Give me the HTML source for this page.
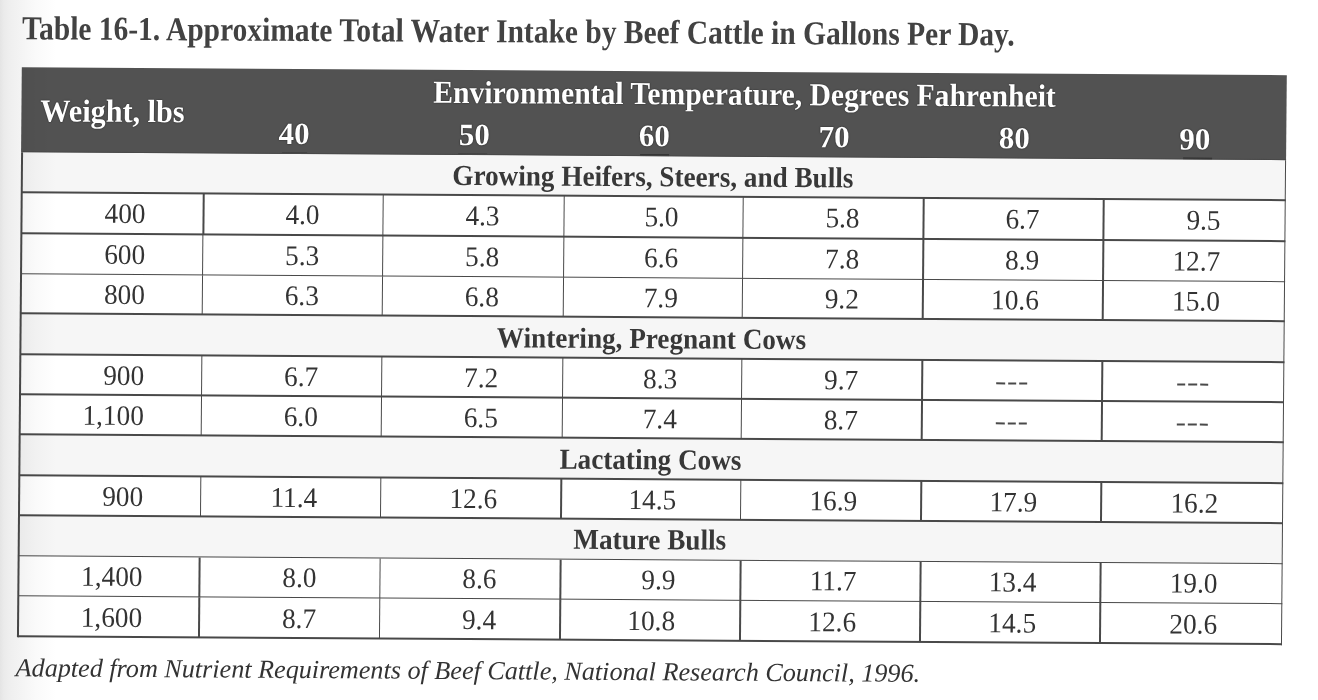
<!DOCTYPE html>
<html><head><meta charset="utf-8"><style>
html,body{margin:0;padding:0;}
body{width:1318px;height:700px;overflow:hidden;position:relative;background:#fff;font-family:"Liberation Serif",serif;filter:grayscale(1);}
#edge{position:absolute;left:0;top:0;width:60px;height:700px;background:linear-gradient(to right,#e4e4e4 0px,#ebebeb 4px,#efefef 10px,#f2f2f2 17px,#f6f6f6 26px,#fafafa 36px,#ffffff 56px);mix-blend-mode:multiply;z-index:5;}
#w{position:absolute;left:0;top:0;width:0;height:0;transform:matrix(1,0.0062,-0.0085,1,22.8,67.3);transform-origin:0 0;}
.r{position:absolute;}
.t{position:absolute;line-height:0;white-space:nowrap;}
</style></head><body>
<div id="w">
<div class="r" style="left:-1.10px;top:-0.40px;width:1265.40px;height:84.90px;background:#525252"></div>
<div class="r" style="left:617.90px;top:83.00px;width:28.90px;height:1.50px;background:#2c2c2c"></div>
<div class="r" style="left:1160.80px;top:83.00px;width:29.00px;height:1.50px;background:#2c2c2c"></div>
<div class="r" style="left:259.50px;top:83.30px;width:25.50px;height:1.20px;background:#444"></div>
<div class="r" style="left:435.50px;top:83.30px;width:29.50px;height:1.20px;background:#444"></div>
<div class="r" style="left:0.00px;top:84.50px;width:1263.40px;height:40.50px;background:#f6f6f6"></div>
<div class="r" style="left:0.00px;top:246.00px;width:1263.40px;height:41.00px;background:#f6f6f6"></div>
<div class="r" style="left:0.00px;top:367.00px;width:1263.40px;height:41.00px;background:#f6f6f6"></div>
<div class="r" style="left:0.00px;top:448.00px;width:1263.40px;height:40.50px;background:#f6f6f6"></div>
<div class="r" style="left:0.00px;top:83.88px;width:1264.03px;height:1.25px;background:#494949"></div>
<div class="r" style="left:0.00px;top:124.38px;width:1264.03px;height:1.25px;background:#494949"></div>
<div class="r" style="left:0.00px;top:165.38px;width:1264.03px;height:1.25px;background:#494949"></div>
<div class="r" style="left:0.00px;top:205.88px;width:1264.03px;height:1.25px;background:#494949"></div>
<div class="r" style="left:0.00px;top:245.38px;width:1264.03px;height:1.25px;background:#494949"></div>
<div class="r" style="left:0.00px;top:286.38px;width:1264.03px;height:1.25px;background:#494949"></div>
<div class="r" style="left:0.00px;top:326.38px;width:1264.03px;height:1.25px;background:#494949"></div>
<div class="r" style="left:0.00px;top:366.38px;width:1264.03px;height:1.25px;background:#494949"></div>
<div class="r" style="left:0.00px;top:407.38px;width:1264.03px;height:1.25px;background:#494949"></div>
<div class="r" style="left:0.00px;top:447.38px;width:1264.03px;height:1.25px;background:#494949"></div>
<div class="r" style="left:0.00px;top:487.88px;width:1264.03px;height:1.25px;background:#494949"></div>
<div class="r" style="left:0.00px;top:527.98px;width:1264.03px;height:1.25px;background:#494949"></div>
<div class="r" style="left:0.00px;top:568.38px;width:1264.03px;height:1.25px;background:#494949"></div>
<div class="r" style="left:-0.62px;top:84.50px;width:1.25px;height:485.12px;background:#494949"></div>
<div class="r" style="left:1262.78px;top:84.50px;width:1.25px;height:485.12px;background:#494949"></div>
<div class="r" style="left:181.34px;top:125.00px;width:1.25px;height:41.00px;background:#494949"></div>
<div class="r" style="left:361.18px;top:125.00px;width:1.25px;height:41.00px;background:#494949"></div>
<div class="r" style="left:541.86px;top:125.00px;width:1.25px;height:41.00px;background:#494949"></div>
<div class="r" style="left:720.89px;top:125.00px;width:1.25px;height:41.00px;background:#494949"></div>
<div class="r" style="left:901.38px;top:125.00px;width:1.25px;height:41.00px;background:#494949"></div>
<div class="r" style="left:1081.38px;top:125.00px;width:1.25px;height:41.00px;background:#494949"></div>
<div class="r" style="left:181.24px;top:166.00px;width:1.25px;height:40.50px;background:#494949"></div>
<div class="r" style="left:361.18px;top:166.00px;width:1.25px;height:40.50px;background:#494949"></div>
<div class="r" style="left:541.80px;top:166.00px;width:1.25px;height:40.50px;background:#494949"></div>
<div class="r" style="left:720.94px;top:166.00px;width:1.25px;height:40.50px;background:#494949"></div>
<div class="r" style="left:901.38px;top:166.00px;width:1.25px;height:40.50px;background:#494949"></div>
<div class="r" style="left:1081.38px;top:166.00px;width:1.25px;height:40.50px;background:#494949"></div>
<div class="r" style="left:181.13px;top:206.50px;width:1.25px;height:39.50px;background:#494949"></div>
<div class="r" style="left:361.18px;top:206.50px;width:1.25px;height:39.50px;background:#494949"></div>
<div class="r" style="left:541.74px;top:206.50px;width:1.25px;height:39.50px;background:#494949"></div>
<div class="r" style="left:720.99px;top:206.50px;width:1.25px;height:39.50px;background:#494949"></div>
<div class="r" style="left:901.38px;top:206.50px;width:1.25px;height:39.50px;background:#494949"></div>
<div class="r" style="left:1081.38px;top:206.50px;width:1.25px;height:39.50px;background:#494949"></div>
<div class="r" style="left:180.92px;top:287.00px;width:1.25px;height:40.00px;background:#494949"></div>
<div class="r" style="left:361.18px;top:287.00px;width:1.25px;height:40.00px;background:#494949"></div>
<div class="r" style="left:541.63px;top:287.00px;width:1.25px;height:40.00px;background:#494949"></div>
<div class="r" style="left:721.08px;top:287.00px;width:1.25px;height:40.00px;background:#494949"></div>
<div class="r" style="left:901.38px;top:287.00px;width:1.25px;height:40.00px;background:#494949"></div>
<div class="r" style="left:1081.38px;top:287.00px;width:1.25px;height:40.00px;background:#494949"></div>
<div class="r" style="left:180.81px;top:327.00px;width:1.25px;height:40.00px;background:#494949"></div>
<div class="r" style="left:361.18px;top:327.00px;width:1.25px;height:40.00px;background:#494949"></div>
<div class="r" style="left:541.57px;top:327.00px;width:1.25px;height:40.00px;background:#494949"></div>
<div class="r" style="left:721.13px;top:327.00px;width:1.25px;height:40.00px;background:#494949"></div>
<div class="r" style="left:901.38px;top:327.00px;width:1.25px;height:40.00px;background:#494949"></div>
<div class="r" style="left:1081.38px;top:327.00px;width:1.25px;height:40.00px;background:#494949"></div>
<div class="r" style="left:180.60px;top:408.00px;width:1.25px;height:40.00px;background:#494949"></div>
<div class="r" style="left:361.18px;top:408.00px;width:1.25px;height:40.00px;background:#494949"></div>
<div class="r" style="left:541.45px;top:408.00px;width:1.25px;height:40.00px;background:#494949"></div>
<div class="r" style="left:721.23px;top:408.00px;width:1.25px;height:40.00px;background:#494949"></div>
<div class="r" style="left:901.38px;top:408.00px;width:1.25px;height:40.00px;background:#494949"></div>
<div class="r" style="left:1081.38px;top:408.00px;width:1.25px;height:40.00px;background:#494949"></div>
<div class="r" style="left:180.39px;top:488.50px;width:1.25px;height:40.10px;background:#494949"></div>
<div class="r" style="left:361.18px;top:488.50px;width:1.25px;height:40.10px;background:#494949"></div>
<div class="r" style="left:541.34px;top:488.50px;width:1.25px;height:40.10px;background:#494949"></div>
<div class="r" style="left:721.32px;top:488.50px;width:1.25px;height:40.10px;background:#494949"></div>
<div class="r" style="left:901.38px;top:488.50px;width:1.25px;height:40.10px;background:#494949"></div>
<div class="r" style="left:1081.38px;top:488.50px;width:1.25px;height:40.10px;background:#494949"></div>
<div class="r" style="left:180.29px;top:528.60px;width:1.25px;height:40.40px;background:#494949"></div>
<div class="r" style="left:361.18px;top:528.60px;width:1.25px;height:40.40px;background:#494949"></div>
<div class="r" style="left:541.28px;top:528.60px;width:1.25px;height:40.40px;background:#494949"></div>
<div class="r" style="left:721.37px;top:528.60px;width:1.25px;height:40.40px;background:#494949"></div>
<div class="r" style="left:901.38px;top:528.60px;width:1.25px;height:40.40px;background:#494949"></div>
<div class="r" style="left:1081.38px;top:528.60px;width:1.25px;height:40.40px;background:#494949"></div>
<div class="t" style="left:-1.40px;top:-38.60px;font-size:33.5px;font-weight:bold;font-style:normal;color:#424242;transform:scaleX(0.88);transform-origin:left 0;">Table 16-1. Approximate Total Water Intake by Beef Cattle in Gallons Per Day.</div>
<div class="t" style="left:17.70px;top:42.50px;font-size:32px;font-weight:bold;font-style:normal;color:#fff;transform:scaleX(0.942);transform-origin:left 0;text-shadow:0 0 1px rgba(0,0,0,.7),0 0 2px rgba(0,0,0,.35);">Weight, lbs</div>
<div class="t" style="left:221.95px;width:1000px;text-align:center;top:21.50px;font-size:32px;font-weight:bold;font-style:normal;color:#fff;transform:scaleX(0.9246);transform-origin:center 0;text-shadow:0 0 1px rgba(0,0,0,.7),0 0 2px rgba(0,0,0,.35);">Environmental Temperature, Degrees Fahrenheit</div>
<div class="t" style="left:-228.10px;width:1000px;text-align:center;top:65.04px;font-size:31px;font-weight:bold;font-style:normal;color:#fff;text-shadow:0 0 1px rgba(0,0,0,.7),0 0 2px rgba(0,0,0,.35);">40</div>
<div class="t" style="left:-47.85px;width:1000px;text-align:center;top:65.04px;font-size:31px;font-weight:bold;font-style:normal;color:#fff;text-shadow:0 0 1px rgba(0,0,0,.7),0 0 2px rgba(0,0,0,.35);">50</div>
<div class="t" style="left:132.00px;width:1000px;text-align:center;top:65.04px;font-size:31px;font-weight:bold;font-style:normal;color:#fff;text-shadow:0 0 1px rgba(0,0,0,.7),0 0 2px rgba(0,0,0,.35);">60</div>
<div class="t" style="left:311.75px;width:1000px;text-align:center;top:65.04px;font-size:31px;font-weight:bold;font-style:normal;color:#fff;text-shadow:0 0 1px rgba(0,0,0,.7),0 0 2px rgba(0,0,0,.35);">70</div>
<div class="t" style="left:492.00px;width:1000px;text-align:center;top:65.04px;font-size:31px;font-weight:bold;font-style:normal;color:#fff;text-shadow:0 0 1px rgba(0,0,0,.7),0 0 2px rgba(0,0,0,.35);">80</div>
<div class="t" style="left:672.70px;width:1000px;text-align:center;top:65.04px;font-size:31px;font-weight:bold;font-style:normal;color:#fff;text-shadow:0 0 1px rgba(0,0,0,.7),0 0 2px rgba(0,0,0,.35);">90</div>
<div class="t" style="left:131.00px;width:1000px;text-align:center;top:104.62px;font-size:29px;font-weight:bold;font-style:normal;color:#383838;transform:scaleX(0.937);transform-origin:center 0;">Growing Heifers, Steers, and Bulls</div>
<div class="t" style="left:131.00px;width:1000px;text-align:center;top:266.62px;font-size:29px;font-weight:bold;font-style:normal;color:#383838;transform:scaleX(0.937);transform-origin:center 0;">Wintering, Pregnant Cows</div>
<div class="t" style="left:131.00px;width:1000px;text-align:center;top:387.62px;font-size:29px;font-weight:bold;font-style:normal;color:#383838;transform:scaleX(0.937);transform-origin:center 0;">Lactating Cows</div>
<div class="t" style="left:131.00px;width:1000px;text-align:center;top:468.12px;font-size:29px;font-weight:bold;font-style:normal;color:#383838;transform:scaleX(0.937);transform-origin:center 0;">Mature Bulls</div>
<div class="t" style="left:-876.30px;width:1000px;text-align:right;top:145.52px;font-size:28.4px;font-weight:normal;font-style:normal;color:#333;transform:scaleX(0.96);transform-origin:right 0;">400</div>
<div class="t" style="left:-702.50px;width:1000px;text-align:right;top:145.52px;font-size:28.4px;font-weight:normal;font-style:normal;color:#333;transform:scaleX(0.96);transform-origin:right 0;">4.0</div>
<div class="t" style="left:-521.80px;width:1000px;text-align:right;top:145.52px;font-size:28.4px;font-weight:normal;font-style:normal;color:#333;transform:scaleX(0.96);transform-origin:right 0;">4.3</div>
<div class="t" style="left:-342.80px;width:1000px;text-align:right;top:145.52px;font-size:28.4px;font-weight:normal;font-style:normal;color:#333;transform:scaleX(0.96);transform-origin:right 0;">5.0</div>
<div class="t" style="left:-162.30px;width:1000px;text-align:right;top:145.52px;font-size:28.4px;font-weight:normal;font-style:normal;color:#333;transform:scaleX(0.96);transform-origin:right 0;">5.8</div>
<div class="t" style="left:17.70px;width:1000px;text-align:right;top:145.52px;font-size:28.4px;font-weight:normal;font-style:normal;color:#333;transform:scaleX(0.96);transform-origin:right 0;">6.7</div>
<div class="t" style="left:199.10px;width:1000px;text-align:right;top:145.52px;font-size:28.4px;font-weight:normal;font-style:normal;color:#333;transform:scaleX(0.96);transform-origin:right 0;">9.5</div>
<div class="t" style="left:-876.30px;width:1000px;text-align:right;top:186.72px;font-size:28.4px;font-weight:normal;font-style:normal;color:#333;transform:scaleX(0.96);transform-origin:right 0;">600</div>
<div class="t" style="left:-702.50px;width:1000px;text-align:right;top:186.72px;font-size:28.4px;font-weight:normal;font-style:normal;color:#333;transform:scaleX(0.96);transform-origin:right 0;">5.3</div>
<div class="t" style="left:-521.80px;width:1000px;text-align:right;top:186.72px;font-size:28.4px;font-weight:normal;font-style:normal;color:#333;transform:scaleX(0.96);transform-origin:right 0;">5.8</div>
<div class="t" style="left:-342.80px;width:1000px;text-align:right;top:186.72px;font-size:28.4px;font-weight:normal;font-style:normal;color:#333;transform:scaleX(0.96);transform-origin:right 0;">6.6</div>
<div class="t" style="left:-162.30px;width:1000px;text-align:right;top:186.72px;font-size:28.4px;font-weight:normal;font-style:normal;color:#333;transform:scaleX(0.96);transform-origin:right 0;">7.8</div>
<div class="t" style="left:17.70px;width:1000px;text-align:right;top:186.72px;font-size:28.4px;font-weight:normal;font-style:normal;color:#333;transform:scaleX(0.96);transform-origin:right 0;">8.9</div>
<div class="t" style="left:199.10px;width:1000px;text-align:right;top:186.72px;font-size:28.4px;font-weight:normal;font-style:normal;color:#333;transform:scaleX(0.96);transform-origin:right 0;">12.7</div>
<div class="t" style="left:-876.30px;width:1000px;text-align:right;top:227.32px;font-size:28.4px;font-weight:normal;font-style:normal;color:#333;transform:scaleX(0.96);transform-origin:right 0;">800</div>
<div class="t" style="left:-702.50px;width:1000px;text-align:right;top:227.32px;font-size:28.4px;font-weight:normal;font-style:normal;color:#333;transform:scaleX(0.96);transform-origin:right 0;">6.3</div>
<div class="t" style="left:-521.80px;width:1000px;text-align:right;top:227.32px;font-size:28.4px;font-weight:normal;font-style:normal;color:#333;transform:scaleX(0.96);transform-origin:right 0;">6.8</div>
<div class="t" style="left:-342.80px;width:1000px;text-align:right;top:227.32px;font-size:28.4px;font-weight:normal;font-style:normal;color:#333;transform:scaleX(0.96);transform-origin:right 0;">7.9</div>
<div class="t" style="left:-162.30px;width:1000px;text-align:right;top:227.32px;font-size:28.4px;font-weight:normal;font-style:normal;color:#333;transform:scaleX(0.96);transform-origin:right 0;">9.2</div>
<div class="t" style="left:17.70px;width:1000px;text-align:right;top:227.32px;font-size:28.4px;font-weight:normal;font-style:normal;color:#333;transform:scaleX(0.96);transform-origin:right 0;">10.6</div>
<div class="t" style="left:199.10px;width:1000px;text-align:right;top:227.32px;font-size:28.4px;font-weight:normal;font-style:normal;color:#333;transform:scaleX(0.96);transform-origin:right 0;">15.0</div>
<div class="t" style="left:-876.30px;width:1000px;text-align:right;top:307.52px;font-size:28.4px;font-weight:normal;font-style:normal;color:#333;transform:scaleX(0.96);transform-origin:right 0;">900</div>
<div class="t" style="left:-702.50px;width:1000px;text-align:right;top:307.52px;font-size:28.4px;font-weight:normal;font-style:normal;color:#333;transform:scaleX(0.96);transform-origin:right 0;">6.7</div>
<div class="t" style="left:-521.80px;width:1000px;text-align:right;top:307.52px;font-size:28.4px;font-weight:normal;font-style:normal;color:#333;transform:scaleX(0.96);transform-origin:right 0;">7.2</div>
<div class="t" style="left:-342.80px;width:1000px;text-align:right;top:307.52px;font-size:28.4px;font-weight:normal;font-style:normal;color:#333;transform:scaleX(0.96);transform-origin:right 0;">8.3</div>
<div class="t" style="left:-162.30px;width:1000px;text-align:right;top:307.52px;font-size:28.4px;font-weight:normal;font-style:normal;color:#333;transform:scaleX(0.96);transform-origin:right 0;">9.7</div>
<div class="r" style="left:976.20px;top:308.90px;width:8.50px;height:1.80px;background:#4a4a4a"></div>
<div class="r" style="left:987.50px;top:308.90px;width:8.50px;height:1.80px;background:#4a4a4a"></div>
<div class="r" style="left:998.80px;top:308.90px;width:8.50px;height:1.80px;background:#4a4a4a"></div>
<div class="r" style="left:1156.90px;top:308.90px;width:8.50px;height:1.80px;background:#4a4a4a"></div>
<div class="r" style="left:1168.20px;top:308.90px;width:8.50px;height:1.80px;background:#4a4a4a"></div>
<div class="r" style="left:1179.50px;top:308.90px;width:8.50px;height:1.80px;background:#4a4a4a"></div>
<div class="t" style="left:-876.30px;width:1000px;text-align:right;top:348.02px;font-size:28.4px;font-weight:normal;font-style:normal;color:#333;transform:scaleX(0.96);transform-origin:right 0;">1,100</div>
<div class="t" style="left:-702.50px;width:1000px;text-align:right;top:348.02px;font-size:28.4px;font-weight:normal;font-style:normal;color:#333;transform:scaleX(0.96);transform-origin:right 0;">6.0</div>
<div class="t" style="left:-521.80px;width:1000px;text-align:right;top:348.02px;font-size:28.4px;font-weight:normal;font-style:normal;color:#333;transform:scaleX(0.96);transform-origin:right 0;">6.5</div>
<div class="t" style="left:-342.80px;width:1000px;text-align:right;top:348.02px;font-size:28.4px;font-weight:normal;font-style:normal;color:#333;transform:scaleX(0.96);transform-origin:right 0;">7.4</div>
<div class="t" style="left:-162.30px;width:1000px;text-align:right;top:348.02px;font-size:28.4px;font-weight:normal;font-style:normal;color:#333;transform:scaleX(0.96);transform-origin:right 0;">8.7</div>
<div class="r" style="left:976.20px;top:348.90px;width:8.50px;height:1.80px;background:#4a4a4a"></div>
<div class="r" style="left:987.50px;top:348.90px;width:8.50px;height:1.80px;background:#4a4a4a"></div>
<div class="r" style="left:998.80px;top:348.90px;width:8.50px;height:1.80px;background:#4a4a4a"></div>
<div class="r" style="left:1156.90px;top:348.90px;width:8.50px;height:1.80px;background:#4a4a4a"></div>
<div class="r" style="left:1168.20px;top:348.90px;width:8.50px;height:1.80px;background:#4a4a4a"></div>
<div class="r" style="left:1179.50px;top:348.90px;width:8.50px;height:1.80px;background:#4a4a4a"></div>
<div class="t" style="left:-876.30px;width:1000px;text-align:right;top:428.72px;font-size:28.4px;font-weight:normal;font-style:normal;color:#333;transform:scaleX(0.96);transform-origin:right 0;">900</div>
<div class="t" style="left:-702.50px;width:1000px;text-align:right;top:428.72px;font-size:28.4px;font-weight:normal;font-style:normal;color:#333;transform:scaleX(0.96);transform-origin:right 0;">11.4</div>
<div class="t" style="left:-521.80px;width:1000px;text-align:right;top:428.72px;font-size:28.4px;font-weight:normal;font-style:normal;color:#333;transform:scaleX(0.96);transform-origin:right 0;">12.6</div>
<div class="t" style="left:-342.80px;width:1000px;text-align:right;top:428.72px;font-size:28.4px;font-weight:normal;font-style:normal;color:#333;transform:scaleX(0.96);transform-origin:right 0;">14.5</div>
<div class="t" style="left:-162.30px;width:1000px;text-align:right;top:428.72px;font-size:28.4px;font-weight:normal;font-style:normal;color:#333;transform:scaleX(0.96);transform-origin:right 0;">16.9</div>
<div class="t" style="left:17.70px;width:1000px;text-align:right;top:428.72px;font-size:28.4px;font-weight:normal;font-style:normal;color:#333;transform:scaleX(0.96);transform-origin:right 0;">17.9</div>
<div class="t" style="left:199.10px;width:1000px;text-align:right;top:428.72px;font-size:28.4px;font-weight:normal;font-style:normal;color:#333;transform:scaleX(0.96);transform-origin:right 0;">16.2</div>
<div class="t" style="left:-876.30px;width:1000px;text-align:right;top:509.12px;font-size:28.4px;font-weight:normal;font-style:normal;color:#333;transform:scaleX(0.96);transform-origin:right 0;">1,400</div>
<div class="t" style="left:-702.50px;width:1000px;text-align:right;top:509.12px;font-size:28.4px;font-weight:normal;font-style:normal;color:#333;transform:scaleX(0.96);transform-origin:right 0;">8.0</div>
<div class="t" style="left:-521.80px;width:1000px;text-align:right;top:509.12px;font-size:28.4px;font-weight:normal;font-style:normal;color:#333;transform:scaleX(0.96);transform-origin:right 0;">8.6</div>
<div class="t" style="left:-342.80px;width:1000px;text-align:right;top:509.12px;font-size:28.4px;font-weight:normal;font-style:normal;color:#333;transform:scaleX(0.96);transform-origin:right 0;">9.9</div>
<div class="t" style="left:-162.30px;width:1000px;text-align:right;top:509.12px;font-size:28.4px;font-weight:normal;font-style:normal;color:#333;transform:scaleX(0.96);transform-origin:right 0;">11.7</div>
<div class="t" style="left:17.70px;width:1000px;text-align:right;top:509.12px;font-size:28.4px;font-weight:normal;font-style:normal;color:#333;transform:scaleX(0.96);transform-origin:right 0;">13.4</div>
<div class="t" style="left:199.10px;width:1000px;text-align:right;top:509.12px;font-size:28.4px;font-weight:normal;font-style:normal;color:#333;transform:scaleX(0.96);transform-origin:right 0;">19.0</div>
<div class="t" style="left:-876.30px;width:1000px;text-align:right;top:549.52px;font-size:28.4px;font-weight:normal;font-style:normal;color:#333;transform:scaleX(0.96);transform-origin:right 0;">1,600</div>
<div class="t" style="left:-702.50px;width:1000px;text-align:right;top:549.52px;font-size:28.4px;font-weight:normal;font-style:normal;color:#333;transform:scaleX(0.96);transform-origin:right 0;">8.7</div>
<div class="t" style="left:-521.80px;width:1000px;text-align:right;top:549.52px;font-size:28.4px;font-weight:normal;font-style:normal;color:#333;transform:scaleX(0.96);transform-origin:right 0;">9.4</div>
<div class="t" style="left:-342.80px;width:1000px;text-align:right;top:549.52px;font-size:28.4px;font-weight:normal;font-style:normal;color:#333;transform:scaleX(0.96);transform-origin:right 0;">10.8</div>
<div class="t" style="left:-162.30px;width:1000px;text-align:right;top:549.52px;font-size:28.4px;font-weight:normal;font-style:normal;color:#333;transform:scaleX(0.96);transform-origin:right 0;">12.6</div>
<div class="t" style="left:17.70px;width:1000px;text-align:right;top:549.52px;font-size:28.4px;font-weight:normal;font-style:normal;color:#333;transform:scaleX(0.96);transform-origin:right 0;">14.5</div>
<div class="t" style="left:199.10px;width:1000px;text-align:right;top:549.52px;font-size:28.4px;font-weight:normal;font-style:normal;color:#333;transform:scaleX(0.96);transform-origin:right 0;">20.6</div>
<div class="t" style="left:-2.00px;top:600.83px;font-size:26px;font-weight:normal;font-style:italic;color:#333;transform:scaleX(1.006);transform-origin:left 0;">Adapted from Nutrient Requirements of Beef Cattle, National Research Council, 1996.</div>
</div>
<div id="edge"></div>
</body></html>
